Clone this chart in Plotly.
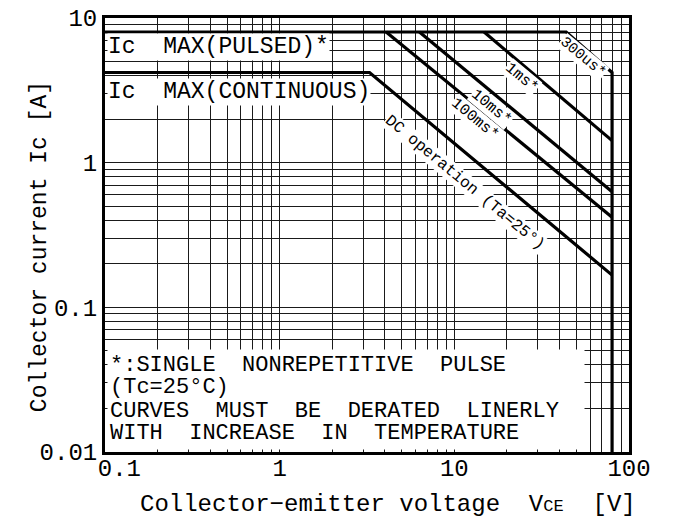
import plotly.graph_objects as go

# ---- data ----
pulsed_v = [0.1, 43.7, 80, 80]
pulsed_i = [8, 8, 4.2, 0.01]
ms1_v = [14.8, 80]
ms1_i = [8, 1.42]
ms10_v = [6.31, 80]
ms10_i = [8, 0.63]
ms100_v = [4.07, 80]
ms100_i = [8, 0.42]
dc_v = [0.1, 3.27, 80]
dc_i = [4.2, 4.2, 0.167]

x_ticks = [0.1, 1, 10, 100]
x_tick_text = ["\u00a0\u00a00.1", "1", "10", "100"]
y_ticks = [0.01, 0.1, 1, 10]
y_tick_text = ["0.01", "0.1", "1", "10"]

note_lines = ["*:SINGLE  NONREPETITIVE  PULSE",
              "(Tc=25°C)",
              "CURVES  MUST  BE  DERATED  LINERLY",
              "WITH  INCREASE  IN  TEMPERATURE"]

FONT = "Liberation Mono"

def grid_vals(lo_exp, hi_exp):
    vals = []
    for e in range(lo_exp, hi_exp):
        for m in range(1, 10):
            vals.append(m * 10 ** e)
    vals.append(10 ** hi_exp)
    return vals

def tick_text(vals, ticks, texts):
    out = []
    for v in vals:
        lab = ""
        for t, s in zip(ticks, texts):
            if abs(v - t) < 1e-9 * max(1, t):
                lab = s
        out.append(lab)
    return out

xg = grid_vals(-1, 2)
yg = grid_vals(-2, 1)

fig = go.Figure()
line = dict(color="black", width=3.2)
for xs, ys in [(pulsed_v, pulsed_i), (ms1_v, ms1_i), (ms10_v, ms10_i),
               (ms100_v, ms100_i), (dc_v, dc_i)]:
    fig.add_trace(go.Scatter(x=xs, y=ys, mode="lines", line=line,
                             showlegend=False, hoverinfo="skip"))

ang = 39.6
def rot_label(txt, lx, ly, size):
    fig.add_annotation(x=lx, y=ly, text=txt, showarrow=False, textangle=ang,
                       font=dict(family=FONT, size=size, color="black"),
                       bgcolor="white", borderpad=0)

rot_label("300us*", 1.736, 0.730, 15)
rot_label("1ms*", 1.387, 0.585, 15.5)
rot_label("10ms*", 1.210, 0.385, 15.5)
rot_label("100ms*", 1.118, 0.302, 15.5)
rot_label("DC operation (Ta=25°)", 1.061, -0.140, 16)

lab_font = dict(family=FONT, size=23, color="black")
fig.add_annotation(x=-1, y=0.80, text="Ic  MAX(PULSED)*", showarrow=False,
                   xanchor="left", xshift=2, font=lab_font, bgcolor="white", borderpad=0)
fig.add_annotation(x=-1, y=0.489, text="Ic  MAX(CONTINUOUS)", showarrow=False,
                   xanchor="left", xshift=2, font=lab_font, bgcolor="white", borderpad=0)

# white background of the note box
fig.add_annotation(x=-1, y=-2, text="&nbsp;", showarrow=False, xanchor="left",
                   yanchor="bottom", width=476, height=99, bgcolor="white",
                   borderpad=0, xshift=2, yshift=2, font=dict(size=10))
note_font = dict(family=FONT, size=22, color="black")
for txt, dy in zip(note_lines, [87, 65, 41, 19]):
    fig.add_annotation(x=-1, y=-2, text=txt, showarrow=False, xanchor="left",
                       yanchor="middle", xshift=3, yshift=dy, font=note_font)

# axis titles
fig.add_annotation(xref="paper", yref="paper", x=-0.124, y=0.472,
                   xanchor="center", yanchor="middle",
                   text="Collector current Ic [A]", textangle=-90, showarrow=False,
                   font=dict(family=FONT, size=23, color="black"))
fig.add_annotation(xref="paper", yref="paper", x=0.540, y=-0.122,
                   xanchor="center", yanchor="middle",
                   text="Collector−emitter voltage  V<span style='font-size:17px'>CE</span>  [V]",
                   showarrow=False, font=dict(family=FONT, size=24, color="black"))

axis_common = dict(type="log", showgrid=True, gridcolor="#1a1a1a", gridwidth=1,
                   showline=True, linecolor="black", linewidth=3, mirror=True,
                   ticks="", zeroline=False, automargin=False,
                   ticklabeloverflow="allow",
                   tickfont=dict(family=FONT, size=24, color="black"))

fig.update_xaxes(**axis_common, range=[-1, 2], tickmode="array", tickvals=xg,
                 ticktext=tick_text(xg, x_ticks, x_tick_text), ticklabelstandoff=-8)
fig.update_yaxes(**axis_common, range=[-2, 1], tickmode="array", tickvals=yg,
                 ticktext=tick_text(yg, y_ticks, y_tick_text))

# body margin of the page is 8px, so margins are reduced by 8 on left/top
fig.update_layout(width=674, height=531, margin=dict(l=97, r=53, t=10, b=87),
                  plot_bgcolor="white", paper_bgcolor="white",
                  font=dict(family=FONT, color="black"))

fig.write_html("out.html")
